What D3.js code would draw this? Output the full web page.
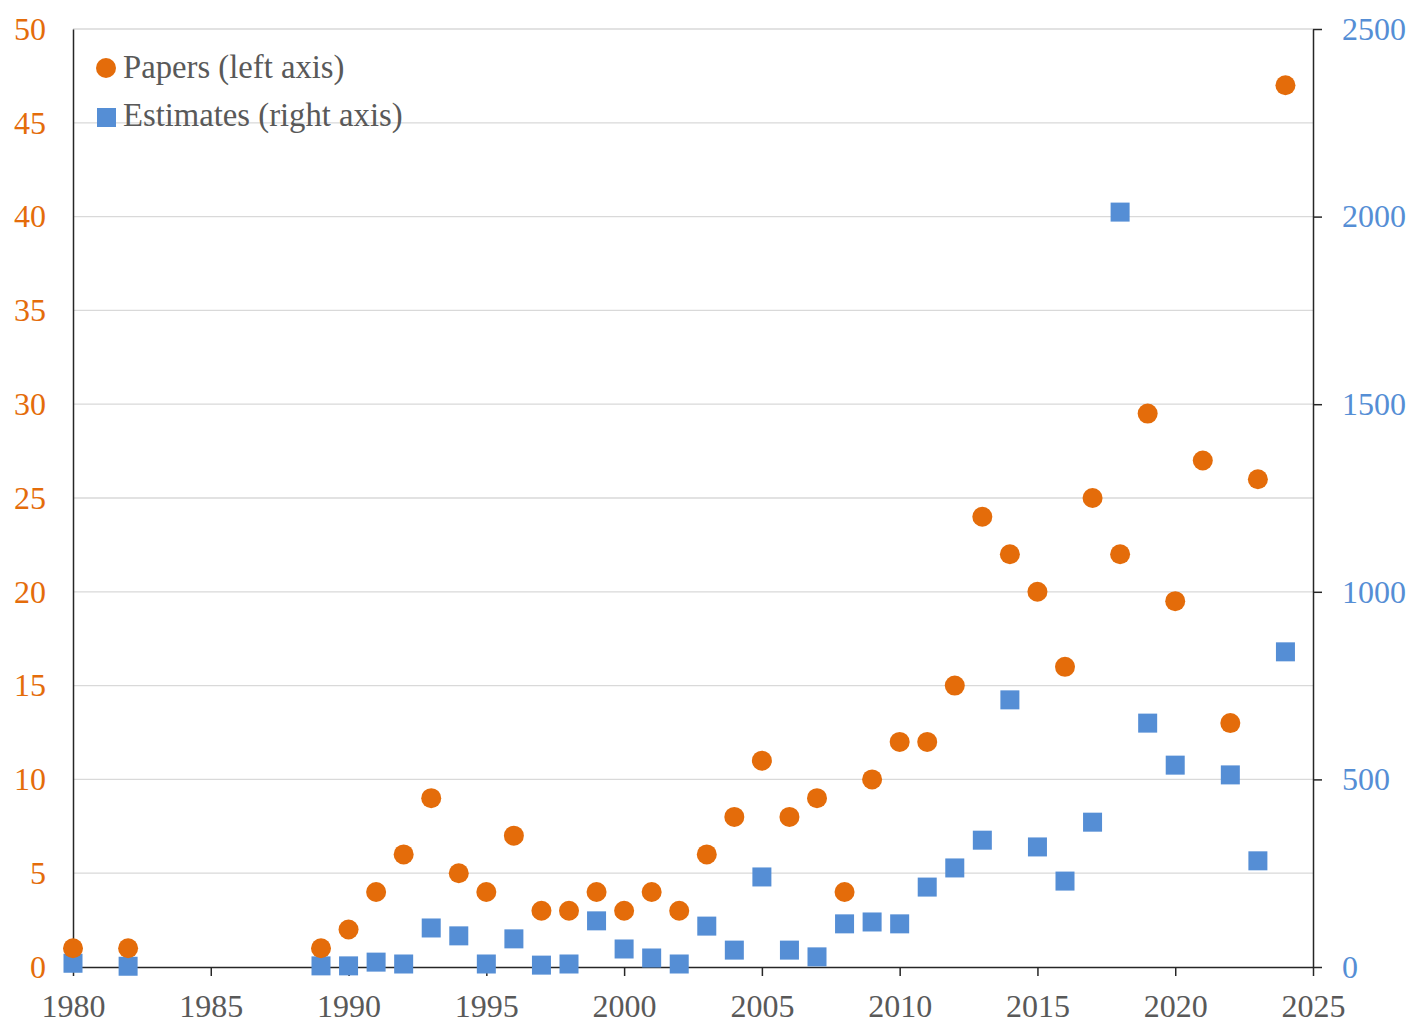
<!DOCTYPE html>
<html><head><meta charset="utf-8">
<script src="https://cdn.jsdelivr.net/npm/d3@7"></script>
<style>body{margin:0;background:#fff} text{font-family:'Liberation Serif','Times New Roman',serif !important;}</style>
</head><body><svg id="c" width="1419" height="1032"></svg>
<script>
const paperYears = [1980,1982,1989,1990,1991,1992,1993,1994,1995,1996,1997,1998,1999,2000,2001,2002,2003,2004,2005,2006,2007,2008,2009,2010,2011,2012,2013,2014,2015,2016,2017,2018,2019,2020,2021,2022,2023,2024];
const papers = [1,1,1,2,4,6,9,5,4,7,3,3,4,3,4,3,6,8,11,8,9,4,10,12,12,15,24,22,20,16,25,22,29.5,19.5,27,13,26,47];
const estYears = [1980,1982,1989,1990,1991,1992,1993,1994,1995,1996,1997,1998,1999,2000,2001,2002,2003,2004,2005,2006,2007,2008,2009,2010,2011,2012,2013,2014,2015,2016,2017,2018,2019,2020,2022,2023,2024];
const estimates = [10,2,3,3,13,8,104,83,8,75,5,8,123,48,24,8,109,45,240,45,27,115,120,115,213,264,338,712,320,229,386,2012,650,538,512,283,840];
const xTicks = [1980,1985,1990,1995,2000,2005,2010,2015,2020,2025];
const leftTicks = [0,5,10,15,20,25,30,35,40,45,50];
const rightTicks = [0,500,1000,1500,2000,2500];
const legendLabels = ["Papers (left axis)","Estimates (right axis)"];

const orange = "#E46C0A", blue = "#558ED5", gray = "#595959";
const L = 73, R = 1313, T = 29, B = 967;
const FS = 32;
const svg = d3.select("#c");
const font = "'Liberation Serif','Times New Roman',serif";
const x = d3.scaleLinear().domain([1980,2025]).range([L,R]);
const yL = d3.scaleLinear().domain([0,50]).range([B,T]);
const yR = d3.scaleLinear().domain([0,2500]).range([B,T]);

// gridlines
svg.append("g").selectAll("line").data(leftTicks.filter(d=>d>0)).join("line")
  .attr("x1",L).attr("x2",R).attr("y1",d=>yL(d)).attr("y2",d=>yL(d))
  .attr("stroke","#d9d9d9").attr("stroke-width",1.3);

// left axis
const gl = svg.append("g").attr("transform",`translate(${L},0)`)
  .call(d3.axisLeft(yL).tickValues(leftTicks).tickSize(0).tickPadding(27));
gl.attr("font-family",font).attr("font-size",FS);
gl.select(".domain").attr("stroke","#262626").attr("stroke-width",1.5);
gl.selectAll("text").attr("fill",orange);

// right axis
const gr = svg.append("g").attr("transform",`translate(${R},0)`)
  .call(d3.axisRight(yR).tickValues(rightTicks).tickFormat(d3.format("d")).tickSizeOuter(0).tickSizeInner(9).tickPadding(20));
gr.attr("font-family",font).attr("font-size",FS);
gr.select(".domain").attr("stroke","#262626").attr("stroke-width",1.5);
gr.selectAll(".tick line").attr("stroke","#262626").attr("stroke-width",1.5);
gr.selectAll("text").attr("fill",blue);

// bottom axis
const gb = svg.append("g").attr("transform",`translate(0,${B})`)
  .call(d3.axisBottom(x).tickValues(xTicks).tickFormat(d3.format("d")).tickSizeOuter(0).tickSizeInner(9).tickPadding(18));
gb.attr("font-family",font).attr("font-size",FS);
gb.select(".domain").attr("stroke","#262626").attr("stroke-width",1.5);
gb.selectAll(".tick line").attr("stroke","#262626").attr("stroke-width",1.5);
gb.selectAll("text").attr("fill",gray);

// estimates squares
const s = 19;
svg.append("g").selectAll("rect").data(estYears.map((d,i)=>[d,estimates[i]])).join("rect")
  .attr("x",d=>x(d[0])-s/2).attr("y",d=>yR(d[1])-s/2).attr("width",s).attr("height",s)
  .attr("fill",blue);
// papers circles
svg.append("g").selectAll("circle").data(paperYears.map((d,i)=>[d,papers[i]])).join("circle")
  .attr("cx",d=>x(d[0])).attr("cy",d=>yL(d[1])).attr("r",10).attr("fill",orange);

// legend
const lg = svg.append("g");
lg.append("circle").attr("cx",106).attr("cy",68).attr("r",10).attr("fill",orange);
lg.append("rect").attr("x",97).attr("y",108).attr("width",19).attr("height",19).attr("fill",blue);
lg.selectAll("text").data(legendLabels).join("text")
  .attr("x",123).attr("y",(d,i)=>78+i*48).text(d=>d)
  .attr("fill",gray).attr("font-family",font).attr("font-size",32.7);
</script></body></html>
